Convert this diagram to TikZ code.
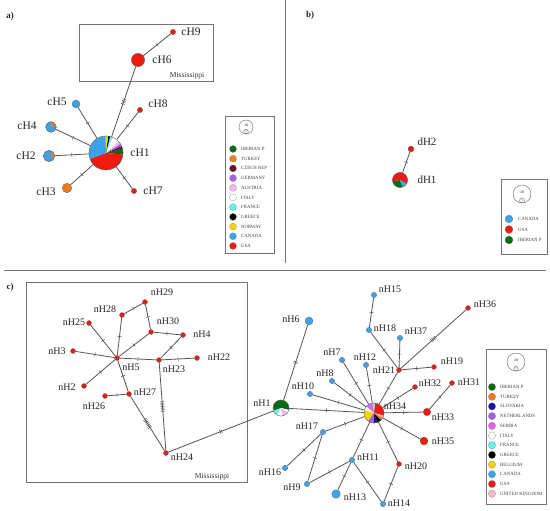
\documentclass[tikz,border=0pt]{standalone}
\usepackage{fontspec}
\setmainfont{Liberation Serif}
\usetikzlibrary{decorations.markings}
\definecolor{cUSA}{HTML}{EE1C0E}
\definecolor{cCAN}{HTML}{3BA3EC}
\definecolor{cIBE}{HTML}{0A6A14}
\definecolor{cTUR}{HTML}{F07B1F}
\definecolor{cCZE}{HTML}{6A0A2C}
\definecolor{cGER}{HTML}{A45FE6}
\definecolor{cAUT}{HTML}{F6B4F0}
\definecolor{cFRA}{HTML}{5EF2F2}
\definecolor{cGRE}{HTML}{000000}
\definecolor{cNOR}{HTML}{F6D100}
\definecolor{cSLO}{HTML}{1414A0}
\definecolor{cSER}{HTML}{EA5FE6}
\definecolor{cUK}{HTML}{F6B8C8}
\definecolor{edgec}{HTML}{555555}
\definecolor{framec}{HTML}{777777}
\newcommand\pieslice[5]{\fill[#5] (#1) -- ++({-(#3)}:#2) arc[start angle={-(#3)}, end angle={-(#4)}, radius=#2] -- cycle;}
\begin{document}
\begin{tikzpicture}[x=1pt,y=-1pt,
  hap/.style 2 args={circle, fill=#1, draw=black!60, line width=0.3pt, inner sep=0pt, minimum size=#2},
  edge/.style={draw=edgec, line width=0.8pt},
  nt/.style={postaction={decorate, decoration={markings, mark=at position 0.5 with {\foreach \k in {1,...,#1}{\draw[edgec, line width=0.5pt] ({(\k-(#1+1)/2)*1.6pt},-2pt) -- ++(0,4pt);}}}}},
  nt/.default=1,
  lbla/.style={font=\fontsize{11.5}{12}\selectfont, text=black!85, inner sep=0pt},
  lblc/.style={font=\fontsize{10}{11}\selectfont, text=black!85, inner sep=0pt},
  legtxt/.style={font=\fontsize{4.8}{5}\selectfont, text=black!75, anchor=west, inner sep=0pt},
  legdot/.style 2 args={circle, fill=#1, draw=black!50, line width=0.2pt, inner sep=0pt, minimum size=#2},
  frame/.style={draw=framec, line width=0.9pt},
  box/.style={draw=black!55, line width=0.6pt},
  panel/.style={font=\fontsize{9}{10}\selectfont\bfseries, text=black!85, inner sep=0pt}
]
\useasboundingbox (0,0) rectangle (550,511);
\fill[white] (0,0) rectangle (550,511);

% frames
\coordinate (vt) at (285,0); \coordinate (vb) at (285,263);
\coordinate (hl) at (4,270); \coordinate (hr) at (546,270);
\draw[frame] (vt) -- (vb);
\draw[frame] (hl) -- (hr);
\node[panel] (pa) at (10,16) {a)};
\node[panel] (pb) at (310,15) {b)};
\node[panel] (pc) at (10,287) {c)};

% ===== panel a =====
\draw[box] (79,24) rectangle (213,81);
\node[font=\fontsize{7.5}{8}\selectfont, text=black!80, inner sep=0pt] (missa) at (187,76) {Mississippi};

\node[hap={cUSA}{5.4pt}] (cH9) at (173,32) {};
\node[hap={cUSA}{13.4pt}] (cH6) at (138,60) {};
\node[hap={white}{34pt}] (cH1) at (106,153) {};
\node[hap={cCAN}{8pt}] (cH5) at (76,104) {};
\node[hap={cUSA}{5.4pt}] (cH8) at (140,110) {};
\node[hap={cCAN}{10.6pt}] (cH4) at (51,127) {};
\node[hap={cCAN}{11.2pt}] (cH2) at (49,156) {};
\node[hap={cTUR}{9.6pt}] (cH3) at (67,188) {};
\node[hap={cUSA}{5.4pt}] (cH7) at (134,191) {};

\draw[edge, nt] (cH9) -- (cH6);
\draw[edge, nt=4] (cH6) -- (cH1);
\draw[edge, nt] (cH5) -- (cH1);
\draw[edge, nt] (cH8) -- (cH1);
\draw[edge, nt] (cH4) -- (cH1);
\draw[edge, nt] (cH2) -- (cH1);
\draw[edge, nt] (cH3) -- (cH1);
\draw[edge, nt] (cH7) -- (cH1);

\pieslice{cH1.center}{17}{200}{355}{cUSA}
\pieslice{cH1.center}{17}{-5}{15}{cIBE}
\pieslice{cH1.center}{17}{15}{24}{cCZE}
\pieslice{cH1.center}{17}{24}{33}{cGER}
\pieslice{cH1.center}{17}{33}{43}{cAUT}
\pieslice{cH1.center}{17}{43}{68}{white}
\pieslice{cH1.center}{17}{68}{76}{cFRA}
\pieslice{cH1.center}{17}{76}{83}{cGRE}
\pieslice{cH1.center}{17}{83}{92}{cNOR}
\pieslice{cH1.center}{17}{92}{200}{cCAN}
\draw[black!60, line width=0.3pt] (cH1.center) circle[radius=17];
\pieslice{cH4.center}{5.3}{20}{85}{cTUR}
\draw[black!60, line width=0.3pt] (cH4.center) circle[radius=5.3];
\pieslice{cH2.center}{5.6}{-10}{45}{cTUR}
\draw[black!60, line width=0.3pt] (cH2.center) circle[radius=5.6];

\node[lbla] (tcH9) at (191,32) {cH9};
\node[lbla] (tcH6) at (162,60) {cH6};
\node[lbla] (tcH5) at (57,102) {cH5};
\node[lbla] (tcH8) at (158,104) {cH8};
\node[lbla] (tcH4) at (27,126) {cH4};
\node[lbla] (tcH2) at (26,156) {cH2};
\node[lbla] (tcH3) at (46,192) {cH3};
\node[lbla] (tcH1) at (140,153) {cH1};
\node[lbla] (tcH7) at (153,191) {cH7};

% legend a
\draw[box] (225,116) rectangle (274,253);
\node[circle, draw=black!60, line width=0.4pt, minimum size=14pt, inner sep=0pt] (lacirc) at (246,127) {};
\node[circle, draw=black!60, line width=0.4pt, minimum size=4.6pt, inner sep=0pt] (lasm) at (246,131.6) {};
\node[font=\fontsize{3.5}{4}\selectfont, inner sep=0pt] (la10) at (246,125) {10};
\node[font=\fontsize{2.8}{3}\selectfont, inner sep=0pt] (la1) at (246,131.6) {1};
\foreach \c/\t [count=\i] in {cIBE/IBERIAN P, cTUR/TURKEY, cCZE/CZECH REP, cGER/GERMANY, cAUT/AUSTRIA, white/ITALY, cFRA/FRANCE, cGRE/GREECE, cNOR/NORWAY, cCAN/CANADA, cUSA/USA}{
  \node[legdot={\c}{7pt}] (lad\i) at (233,{149+9.7*(\i-1)}) {};
  \node[legtxt] (lat\i) at (241,{149+9.7*(\i-1)}) {\t};
}

% ===== panel b =====
\node[hap={cUSA}{6pt}] (dH2) at (411,149) {};
\node[hap={white}{15pt}] (dH1) at (400,180) {};
\draw[edge, nt] (dH2) -- (dH1);
\pieslice{dH1.center}{7.5}{-30}{190}{cUSA}
\pieslice{dH1.center}{7.5}{190}{290}{cIBE}
\pieslice{dH1.center}{7.5}{290}{330}{cCAN}
\draw[black!60, line width=0.3pt] (dH1.center) circle[radius=7.5];
\node[lbla, font=\fontsize{11}{12}\selectfont] (tdH2) at (427,142) {dH2};
\node[lbla, font=\fontsize{11}{12}\selectfont] (tdH1) at (427,180) {dH1};

\draw[box] (501,179) rectangle (547,254);
\node[circle, draw=black!60, line width=0.4pt, minimum size=18pt, inner sep=0pt] (lbcirc) at (522,194) {};
\node[circle, draw=black!60, line width=0.4pt, minimum size=5pt, inner sep=0pt] (lbsm) at (522,200.5) {};
\node[font=\fontsize{3.8}{4}\selectfont, inner sep=0pt] (lb10) at (522,192) {10};
\node[font=\fontsize{2.8}{3}\selectfont, inner sep=0pt] (lb1) at (522,200.5) {1};
\foreach \c/\t [count=\i] in {cCAN/CANADA, cUSA/USA, cIBE/IBERIAN P}{
  \node[legdot={\c}{8pt}] (lbd\i) at (509,{219+10.5*(\i-1)}) {};
  \node[legtxt] (lbt\i) at (518,{219+10.5*(\i-1)}) {\t};
}

% ===== panel c =====
\draw[box] (26,282) rectangle (247,482);
\node[font=\fontsize{7.5}{8}\selectfont, text=black!80, inner sep=0pt] (missc) at (212,477) {Mississippi};

\foreach \n/\x/\y in {nH29/145/302, nH28/122/315, nH25/89/323, nH30/151/332, nH4/183/335, nH3/73/351, nH5/117/358, nH23/159/360, nH22/197/358, nH2/84/386, nH27/129/394, nH26/105/396, nH24/166/453, nH36/468/308, nH21/399/370, nH19/434/367, nH32/415/387, nH31/452/383, nH20/399/464}{
  \node[hap={cUSA}{5pt}] (\n) at (\x,\y) {};
}
\node[hap={cUSA}{7.6pt}] (nH33) at (427,412) {};
\node[hap={cUSA}{8pt}] (nH35) at (424,441) {};
\foreach \n/\x/\y in {nH15/374/295, nH18/369/330, nH37/400/338, nH7/342/360, nH12/366/365, nH8/332/381, nH10/310/394, nH17/323/432, nH11/352/460, nH16/285/468, nH9/307/484, nH14/383/504}{
  \node[hap={cCAN}{5.4pt}] (\n) at (\x,\y) {};
}
\node[hap={cCAN}{8pt}] (nH6) at (309,321) {};
\node[hap={cCAN}{8.6pt}] (nH13) at (336,494) {};
\node[hap={white}{16pt}] (nH1) at (281,408) {};
\node[hap={white}{20pt}] (nH34) at (374,413) {};

% edges Mississippi cluster
\draw[edge, nt] (nH29) -- (nH28);
\draw[edge, nt] (nH29) -- (nH30);
\draw[edge, nt] (nH30) -- (nH4);
\draw[edge, nt] (nH30) -- (nH5);
\draw[edge, nt] (nH28) -- (nH5);
\draw[edge, nt] (nH25) -- (nH5);
\draw[edge, nt] (nH3) -- (nH5);
\draw[edge, nt] (nH2) -- (nH5);
\draw[edge, nt] (nH5) -- (nH23);
\draw[edge, nt] (nH23) -- (nH22);
\draw[edge, nt] (nH23) -- (nH4);
\draw[edge, nt] (nH5) -- (nH27);
\draw[edge, nt] (nH26) -- (nH27);
\draw[edge, nt=7] (nH27) -- (nH24);
\draw[edge, nt=7] (nH23) -- (nH24);
\draw[edge, nt=2] (nH24) -- (nH1);
% edges right cluster
\draw[edge, nt=2] (nH1) -- (nH6);
\draw[edge, nt] (nH1) -- (nH34);
\draw[edge, nt] (nH15) -- (nH18);
\draw[edge, nt] (nH18) -- (nH21);
\draw[edge, nt] (nH37) -- (nH21);
\draw[edge, nt=4] (nH21) -- (nH36);
\draw[edge, nt] (nH21) -- (nH19);
\draw[edge, nt] (nH21) -- (nH34);
\draw[edge, nt] (nH7) -- (nH34);
\draw[edge, nt] (nH12) -- (nH34);
\draw[edge, nt] (nH8) -- (nH34);
\draw[edge, nt] (nH10) -- (nH34);
\draw[edge, nt] (nH32) -- (nH34);
\draw[edge, nt] (nH33) -- (nH34);
\draw[edge, nt] (nH31) -- (nH33);
\draw[edge, nt] (nH35) -- (nH34);
\draw[edge, nt] (nH20) -- (nH34);
\draw[edge, nt] (nH17) -- (nH34);
\draw[edge, nt] (nH11) -- (nH34);
\draw[edge, nt] (nH16) -- (nH17);
\draw[edge, nt] (nH9) -- (nH17);
\draw[edge, nt] (nH9) -- (nH11);
\draw[edge, nt] (nH13) -- (nH11);
\draw[edge, nt] (nH14) -- (nH11);
\draw[edge, nt] (nH14) -- (nH20);

% pies c
\pieslice{nH1.center}{8}{-15}{200}{cIBE}
\pieslice{nH1.center}{8}{200}{240}{cFRA}
\pieslice{nH1.center}{8}{240}{280}{white}
\pieslice{nH1.center}{8}{280}{330}{cAUT}
\pieslice{nH1.center}{8}{330}{345}{white}
\draw[black!60, line width=0.3pt] (nH1.center) circle[radius=8];
\pieslice{nH34.center}{10}{-15}{85}{cUSA}
\pieslice{nH34.center}{10}{85}{100}{cFRA}
\pieslice{nH34.center}{10}{100}{140}{cSER}
\pieslice{nH34.center}{10}{140}{165}{white}
\pieslice{nH34.center}{10}{165}{235}{cNOR}
\pieslice{nH34.center}{10}{235}{270}{cGER}
\pieslice{nH34.center}{10}{270}{290}{cSLO}
\pieslice{nH34.center}{10}{290}{315}{cGRE}
\pieslice{nH34.center}{10}{315}{333}{cTUR}
\pieslice{nH34.center}{10}{333}{345}{cUK}
\draw[black!60, line width=0.3pt] (nH34.center) circle[radius=10];

% labels c
\foreach \n/\x/\y in {nH29/162/292, nH28/105/309, nH25/74/322, nH30/168/321, nH4/202/334, nH3/57/351, nH22/219/357, nH5/131/367, nH23/174/369, nH2/67/387, nH27/145/392, nH26/94/406, nH24/182/457, nH1/262/403, nH16/270/472, nH15/390/289, nH6/291/319, nH18/385/328, nH37/416/331, nH7/332/352, nH12/365/357, nH21/384/370, nH19/452/361, nH8/325/373, nH32/430/383, nH31/469/382, nH10/303/386, nH34/395/406, nH33/443/417, nH17/307/426, nH35/443/441, nH11/368/457, nH20/416/466, nH9/292/487, nH13/355/497, nH14/399/503, nH36/485/304}{
  \node[lblc] (t\n) at (\x,\y) {\n};
}

% legend c
\draw[box] (486,349) rectangle (546,504);
\node[circle, draw=black!60, line width=0.4pt, minimum size=18pt, inner sep=0pt] (lccirc) at (516,362) {};
\node[circle, draw=black!60, line width=0.4pt, minimum size=4.6pt, inner sep=0pt] (lcsm) at (516,368.7) {};
\node[font=\fontsize{3.8}{4}\selectfont, inner sep=0pt] (lc10) at (516,360) {10};
\node[font=\fontsize{2.8}{3}\selectfont, inner sep=0pt] (lc1) at (516,368.7) {1};
\foreach \c/\t [count=\i] in {cIBE/IBERIAN P, cTUR/TURKEY, cSLO/SLOVAKIA, cGER/NETHERLANDS, cSER/SERBIA, white/ITALY, cFRA/FRANCE, cGRE/GREECE, cNOR/BELGIUM, cCAN/CANADA, cUSA/USA, cUK/UNITED KINGDOM}{
  \node[legdot={\c}{7.4pt}] (lcd\i) at (492,{387+9.7*(\i-1)}) {};
  \node[legtxt] (lct\i) at (500,{387+9.7*(\i-1)}) {\t};
}
\end{tikzpicture}
\end{document}
